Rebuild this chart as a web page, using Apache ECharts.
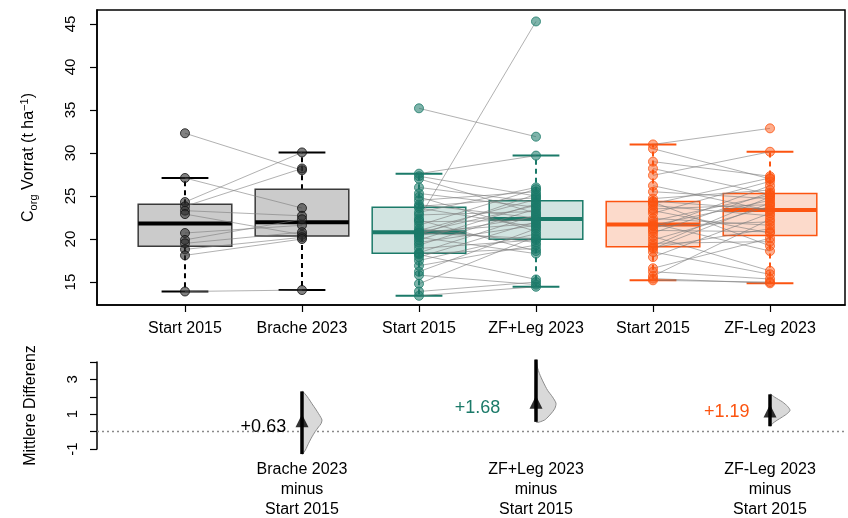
<!DOCTYPE html>
<html><head><meta charset="utf-8">
<script src="https://cdn.jsdelivr.net/npm/echarts@6/dist/echarts.min.js"></script>
<style>html,body{margin:0;padding:0;background:#fff}#c{width:848px;height:518px}</style>
</head><body><div id="c"></div>
<script>
// ---------- data ----------
const categories = ['Start 2015','Brache 2023','Start 2015','ZF+Leg 2023','Start 2015','ZF-Leg 2023'];
const yTicks = [15,20,25,30,35,40,45];
const diffTicks = [-1,0,1,2,3,4];
const diffTickLabels = [-1,1,3];

const bracheStart = [32.3,27.1,24.3,23.8,23.3,22.9,20.7,19.9,19.5,18.8,18.1,13.9];
const bracheEnd   = [28.0,23.6,30.07,28.2,22.7,20.5,21.6,22.3,20.8,20.2,20.0,14.07];

const plusStart = [13.4,13.9,14.8,15.8,16.2,16.9,17.5,17.9,18.2,18.3,18.4,18.9,19.3,19.6,19.9,20.2,20.4,20.5,20.7,20.75,20.8,21.0,21.2,21.6,22.0,22.2,22.4,22.8,23.1,23.6,23.8,24.0,24.5,24.9,25.3,26.0,27.0,27.3,27.6,35.2];
const plusEnd   = [14.45,15.0,20.3,14.7,21.2,19.3,20.6,22.0,15.3,18.9,22.8,19.9,23.5,21.6,24.1,18.3,22.6,25.2,20.05,23.9,21.8,24.6,19.6,25.8,22.2,18.6,45.3,23.2,26.0,21.4,24.8,22.45,25.5,20.9,23.7,24.3,23.0,25.0,29.7,31.9];

const minusStart = [15.2,15.4,15.7,16.2,16.6,17.9,18.5,18.9,19.0,19.2,19.5,19.9,20.3,20.7,21.0,21.2,21.5,21.6,21.8,22.1,22.4,23.0,23.3,23.5,23.9,24.1,24.3,24.4,24.7,25.5,26.2,27.4,28.2,29.0,30.5,31.0];
const minusEnd   = [15.0,14.85,22.3,15.35,20.1,23.0,15.9,24.2,21.2,24.9,19.7,23.8,16.3,25.4,20.85,26.2,22.0,24.5,18.6,25.1,21.6,26.7,20.7,24.0,22.7,27.1,19.2,23.45,25.7,24.7,23.3,30.15,25.2,27.3,27.0,32.87];

const diffLabels = ['Brache 2023\nminus\nStart 2015','ZF+Leg 2023\nminus\nStart 2015','ZF-Leg 2023\nminus\nStart 2015'];
const meanDiff = [0.63, 1.68, 1.19];
const meanDiffText = ['+0.63','+1.68','+1.19'];
const ciLow  = [-1.29, 0.56, 0.31];
const ciHigh = [2.31, 4.14, 2.14];
// bootstrap density (value, relative width)
const densBracheV = [2.31,2.17,1.90,1.60,1.30,1.03,0.80,0.66,0.45,0.27,0.0,-0.30,-0.67,-1.06,-1.29];
const densBracheW = [0,0.15,0.33,0.5,0.68,0.83,0.95,1,0.95,0.83,0.66,0.5,0.33,0.17,0];
const densPlusV = [4.14,3.70,3.34,2.85,2.37,2.00,1.63,1.35,1.14,0.90,0.66,0.56];
const densPlusW = [0,0.07,0.17,0.36,0.58,0.82,1,0.95,0.83,0.65,0.42,0];
const densMinusV = [2.14,1.99,1.85,1.70,1.45,1.23,1.05,0.85,0.65,0.47,0.31];
const densMinusW = [0,0.22,0.42,0.63,0.88,1,0.88,0.63,0.35,0.13,0];

// ---------- layout / style ----------
const L = {xMin:0.248, xMax:6.641, yMin:12.33, yMax:46.63, dMin:-1, dMax:4,
  boxHalf:0.4, capHalf:0.2, violinPx:20,
  labelPos:[[1.67,0.25],[3.5,1.33],[5.63,1.14]]};
const FONT = 'Liberation Sans, Arial, sans-serif';
const groups = [
  {start:bracheStart, end:bracheEnd, x:[1,2], stroke:'#000000', border:'#3a3a3a', fill:'#cbcbcb', pt:'rgba(45,45,45,0.75)', ptb:'#111111', text:'#000000'},
  {start:plusStart, end:plusEnd, x:[3,4], stroke:'#1b7a69', border:'#1b7a69', fill:'#d2e4e1', pt:'rgba(27,122,105,0.7)', ptb:'#1b7a69', text:'#1b7a69'},
  {start:minusStart, end:minusEnd, x:[5,6], stroke:'#fc5410', border:'#fc5410', fill:'#fcdacb', pt:'rgba(252,84,16,0.6)', ptb:'#fc5410', text:'#fc5410'}
];
const dens = [[densBracheV,densBracheW],[densPlusV,densPlusW],[densMinusV,densMinusW]];

function fivenum(a){
  const x=[...a].sort((p,q)=>p-q), n=x.length, n4=Math.floor((n+3)/2)/2;
  return [1,n4,(n+1)/2,n+1-n4,n].map(d=>0.5*(x[Math.floor(d)-1]+x[Math.ceil(d)-1]));
}
function boxStats(a){
  const f=fivenum(a), iqr=f[3]-f[1];
  const lo=Math.min(...a.filter(v=>v>=f[1]-1.5*iqr));
  const hi=Math.max(...a.filter(v=>v<=f[3]+1.5*iqr));
  return [lo,f[1],f[2],f[3],hi];
}

const series = [];
groups.forEach((g,gi)=>{
  const boxData = [[g.x[0],...boxStats(g.start)],[g.x[1],...boxStats(g.end)]];
  series.push({
    type:'custom', xAxisIndex:0, yAxisIndex:0, z:1, clip:false,
    data: boxData,
    renderItem(params, api){
      const pos=api.value(0), lo=api.value(1), q1=api.value(2), med=api.value(3), q3=api.value(4), hi=api.value(5);
      const c=(x,y)=>api.coord([x,y]);
      const tl=c(pos-L.boxHalf,q3), br=c(pos+L.boxHalf,q1);
      const ml=c(pos-L.boxHalf,med), mr=c(pos+L.boxHalf,med);
      const wTop=c(pos,q3), wHi=c(pos,hi), wBot=c(pos,q1), wLo=c(pos,lo);
      const capL1=c(pos-L.capHalf,hi), capR1=c(pos+L.capHalf,hi);
      const capL2=c(pos-L.capHalf,lo), capR2=c(pos+L.capHalf,lo);
      const dash={stroke:g.stroke,lineWidth:2,lineDash:[5,4]};
      return {type:'group',children:[
        {type:'line',shape:{x1:wTop[0],y1:wTop[1],x2:wHi[0],y2:wHi[1]},style:dash},
        {type:'line',shape:{x1:wBot[0],y1:wBot[1],x2:wLo[0],y2:wLo[1]},style:dash},
        {type:'line',shape:{x1:capL1[0],y1:capL1[1],x2:capR1[0],y2:capR1[1]},style:{stroke:g.stroke,lineWidth:2}},
        {type:'line',shape:{x1:capL2[0],y1:capL2[1],x2:capR2[0],y2:capR2[1]},style:{stroke:g.stroke,lineWidth:2}},
        {type:'rect',shape:{x:tl[0],y:tl[1],width:br[0]-tl[0],height:br[1]-tl[1]},style:{fill:g.fill,stroke:g.border,lineWidth:1.5}},
        {type:'line',shape:{x1:ml[0],y1:ml[1],x2:mr[0],y2:mr[1]},style:{stroke:g.stroke,lineWidth:4}}
      ]};
    }
  });
  series.push({
    type:'custom', xAxisIndex:0, yAxisIndex:0, z:2, clip:false,
    data: g.start.map((s,i)=>[g.x[0],s,g.x[1],g.end[i]]),
    renderItem(params, api){
      const a=api.coord([api.value(0),api.value(1)]), b=api.coord([api.value(2),api.value(3)]);
      return {type:'line',shape:{x1:a[0],y1:a[1],x2:b[0],y2:b[1]},style:{stroke:'rgba(125,125,125,0.6)',lineWidth:1}};
    }
  });
  series.push({
    type:'scatter', xAxisIndex:0, yAxisIndex:0, z:3, symbolSize:9,
    itemStyle:{color:g.pt,borderColor:g.ptb,borderWidth:1},
    data: g.start.map(v=>[g.x[0],v]).concat(g.end.map(v=>[g.x[1],v]))
  });
});

// bottom panel
series.push({
  type:'line', xAxisIndex:1, yAxisIndex:1, symbol:'none', z:1,
  data:[[L.xMin,0],[L.xMax,0]],
  lineStyle:{color:'#8a8a8a',width:1.5,type:[2,3]}
});
series.push({
  type:'custom', xAxisIndex:1, yAxisIndex:1, z:2, clip:false,
  data: meanDiff.map((m,i)=>[groups[i].x[1],m,ciLow[i],ciHigh[i],i]),
  renderItem(params, api){
    const pos=api.value(0), lo=api.value(2), hi=api.value(3), i=api.value(4);
    const [dv,dw]=dens[i];
    const pts=dv.map((v,k)=>{const p=api.coord([pos,v]);return [p[0]+dw[k]*L.violinPx,p[1]];});
    const a=api.coord([pos,hi]), b=api.coord([pos,lo]);
    return {type:'group',children:[
      {type:'polygon',shape:{points:pts,smooth:0.25},style:{fill:'#d9d9d9',stroke:'#8c8c8c',lineWidth:1}},
      {type:'line',shape:{x1:a[0],y1:a[1],x2:b[0],y2:b[1]},style:{stroke:'#000',lineWidth:3.5}}
    ]};
  }
});
series.push({
  type:'scatter', xAxisIndex:1, yAxisIndex:1, z:3, symbol:'triangle', symbolSize:[13,13],
  itemStyle:{color:'#000'},
  data: meanDiff.map((m,i)=>[groups[i].x[1],m])
});
series.push({
  type:'custom', xAxisIndex:1, yAxisIndex:1, z:4, clip:false,
  data: meanDiffText.map((t,i)=>[L.labelPos[i][0],L.labelPos[i][1],i]),
  renderItem(params, api){
    const i=api.value(2), p=api.coord([api.value(0),api.value(1)]);
    return {type:'text',x:p[0],y:p[1],style:{text:meanDiffText[i],fill:groups[i].text,fontSize:18,fontFamily:FONT,align:'center',verticalAlign:'middle'}};
  }
});

const chart = echarts.init(document.getElementById('c'), null, {renderer:'canvas'});
chart.setOption({
  animation:false,
  backgroundColor:'#fff',
  grid:[
    {left:97, top:10, width:748, height:295, show:true, borderColor:'#000', borderWidth:1.5, backgroundColor:'transparent', containLabel:false, outerBoundsMode:'none'},
    {left:97, top:362, width:748, height:87, containLabel:false, outerBoundsMode:'none'}
  ],
  xAxis:[
    {type:'value', gridIndex:0, min:L.xMin, max:L.xMax, splitLine:{show:false},
     axisLine:{show:true,onZero:false,lineStyle:{color:'#000',width:1.5}},
     axisTick:{show:true,length:7,customValues:[1,2,3,4,5,6],lineStyle:{color:'#000',width:1.2}},
     axisLabel:{customValues:[1,2,3,4,5,6],formatter:v=>categories[Math.round(v)-1],fontSize:16,fontFamily:FONT,color:'#000',margin:16}},
    {type:'value', gridIndex:1, min:L.xMin, max:L.xMax, splitLine:{show:false},
     axisLine:{show:false}, axisTick:{show:false},
     axisLabel:{customValues:[2,4,6],formatter:v=>diffLabels[Math.round(v)/2-1],fontSize:16,lineHeight:20,fontFamily:FONT,color:'#000',margin:11}}
  ],
  yAxis:[
    {type:'value', gridIndex:0, min:L.yMin, max:L.yMax, splitLine:{show:false},
     axisLine:{show:true,onZero:false,lineStyle:{color:'#000',width:1.5}},
     axisTick:{show:true,length:7,customValues:yTicks,lineStyle:{color:'#000',width:1.2}},
     axisLabel:{customValues:yTicks,rotate:90,fontSize:15,fontFamily:FONT,color:'#000',margin:19},
     name:'{n|C}{sub|org}{n| Vorrat (t ha}{sup|−1}{n|)}', nameLocation:'middle', nameRotate:90, nameGap:58,
     nameTextStyle:{fontFamily:FONT,color:'#000',fontSize:16,
       rich:{n:{fontSize:16,lineHeight:20,fontFamily:FONT,color:'#000'},
             sub:{fontSize:11,lineHeight:11,verticalAlign:'bottom',fontFamily:FONT,color:'#000'},
             sup:{fontSize:11,lineHeight:11,verticalAlign:'top',fontFamily:FONT,color:'#000'}}}},
    {type:'value', gridIndex:1, min:L.dMin, max:L.dMax, splitLine:{show:false},
     axisLine:{show:true,onZero:false,lineStyle:{color:'#000',width:1.5}},
     axisTick:{show:true,length:7,customValues:diffTicks,lineStyle:{color:'#000',width:1.2}},
     axisLabel:{customValues:diffTickLabels,rotate:90,fontSize:15,fontFamily:FONT,color:'#000',margin:17},
     name:'Mittlere Differenz', nameLocation:'middle', nameRotate:90, nameGap:58,
     nameTextStyle:{fontFamily:FONT,color:'#000',fontSize:16}}
  ],
  series
});
</script></body></html>
